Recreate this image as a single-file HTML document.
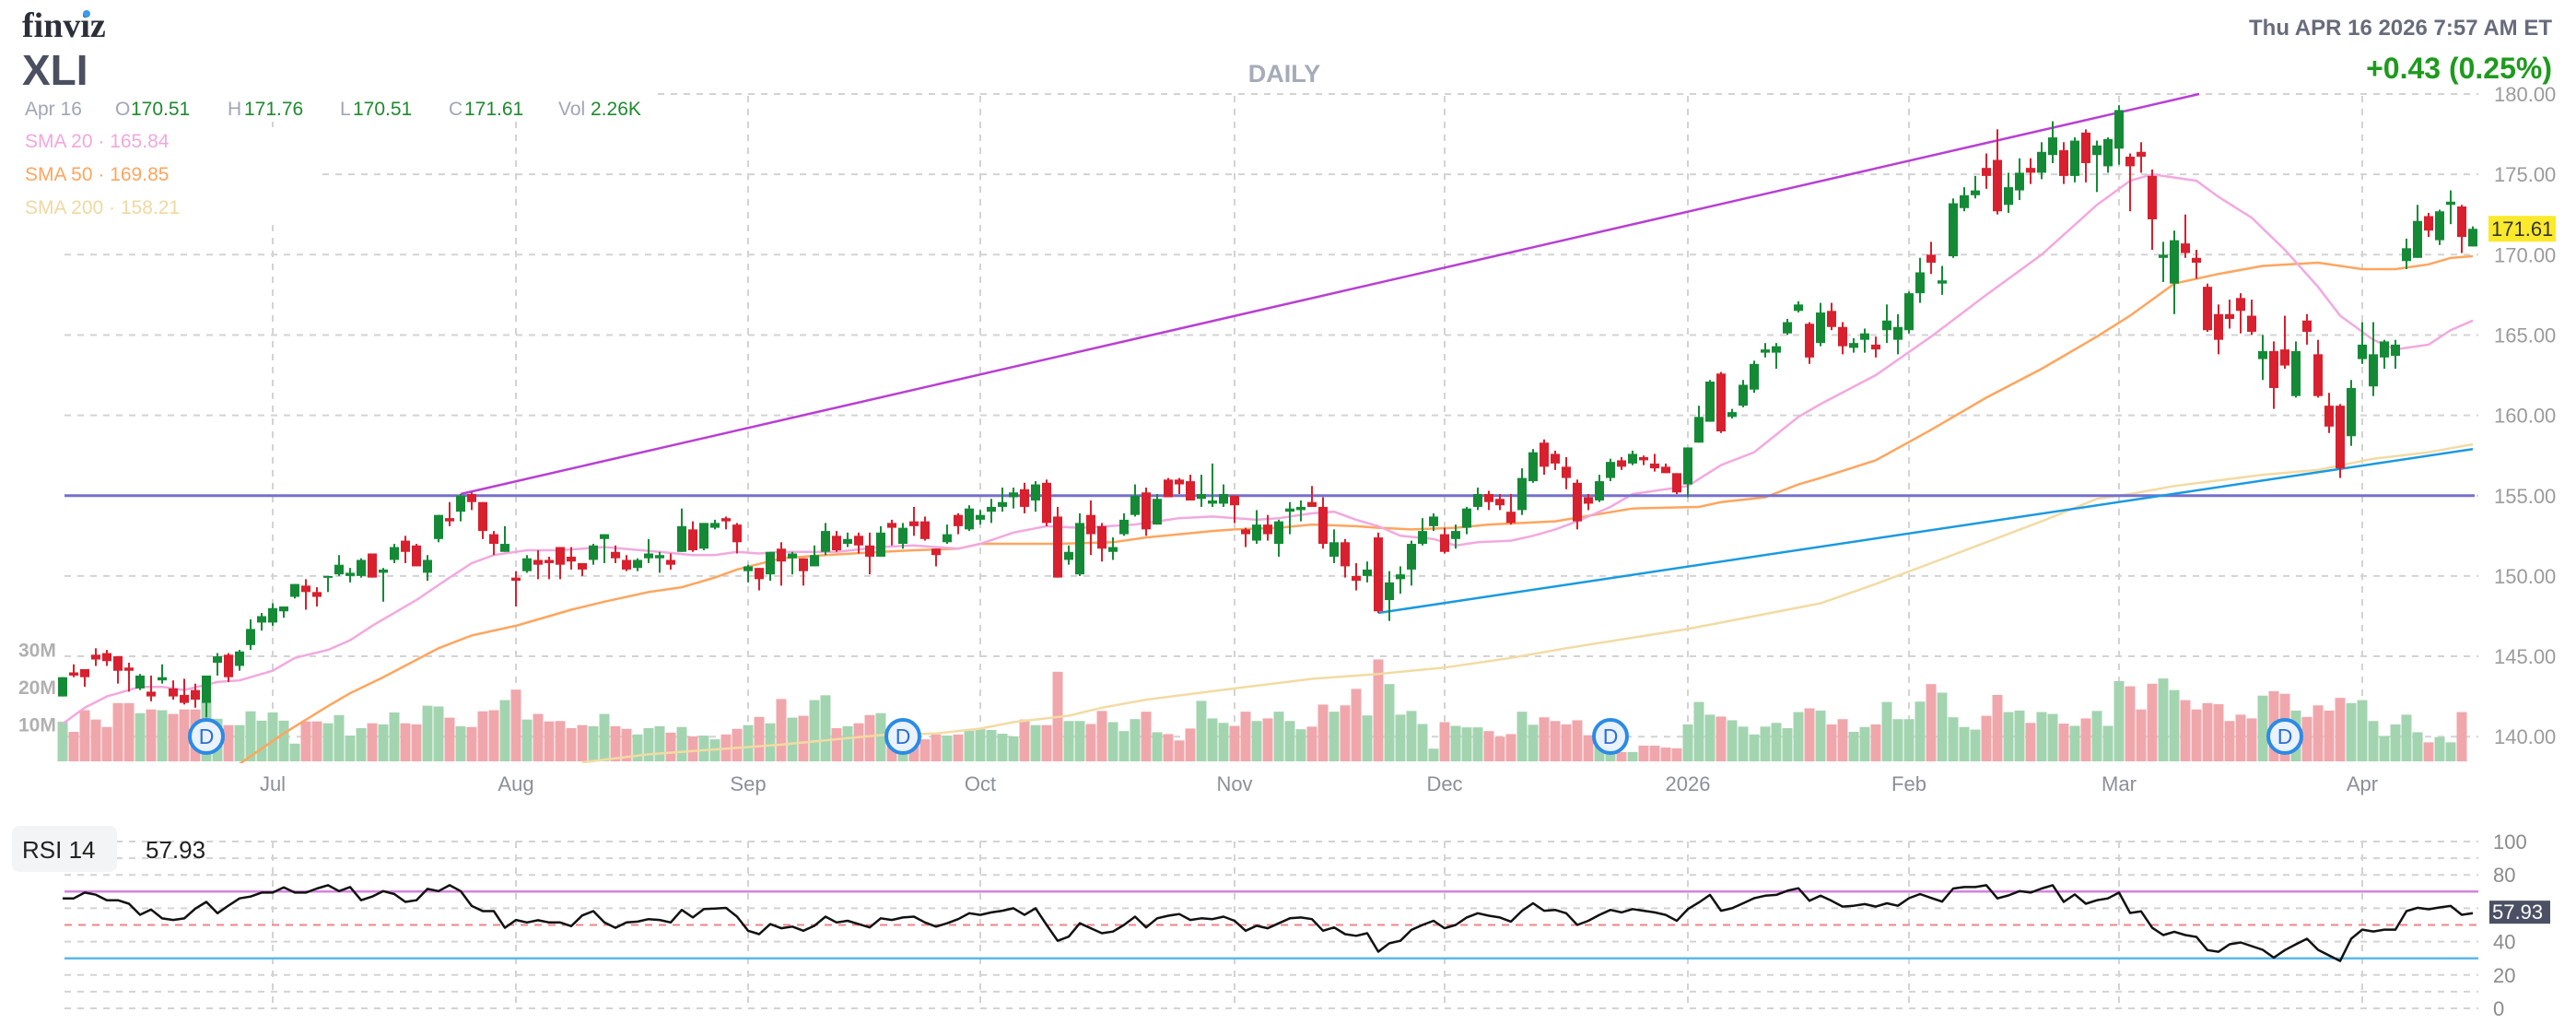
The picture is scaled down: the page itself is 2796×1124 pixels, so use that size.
<!DOCTYPE html>
<html><head><meta charset="utf-8"><title>XLI Daily</title>
<style>
html,body{margin:0;padding:0;background:#fff;}
svg{display:block;font-family:"Liberation Sans",sans-serif;}
</style></head>
<body>
<svg id="chart" xmlns="http://www.w3.org/2000/svg" width="2796" height="1124" viewBox="0 0 2796 1124">
<defs>
<clipPath id="plotClip"><rect x="62" y="95" width="2628" height="733"/></clipPath>
<clipPath id="rsiTop"><rect x="62" y="880" width="2628" height="59.3"/></clipPath>
<clipPath id="rsiBot"><rect x="62" y="1039.7" width="2628" height="60"/></clipPath>
</defs>
<g id="gridLayer"></g>
<g id="volLayer" clip-path="url(#plotClip)"></g>
<g id="smaLayer" clip-path="url(#plotClip)"></g>
<g id="trendLayer" clip-path="url(#plotClip)"></g>
<g id="candleLayer"></g>
<g id="divLayer"></g>
<g id="rsiLayer"></g>
<g id="axisLayer"></g>

<text x="24" y="40" font-family="Liberation Serif,serif" font-weight="bold" font-size="38" fill="#2b2f3a">finviz</text>
<circle cx="94" cy="15" r="4" fill="#3d9be9"/>
<text x="24" y="92" font-weight="bold" font-size="46" fill="#4a5061">XLI</text>
<text x="1394" y="89" text-anchor="middle" font-weight="bold" font-size="27" fill="#a6abb9">DAILY</text>
<text x="2770" y="38" text-anchor="end" font-weight="bold" font-size="24" fill="#676c7c">Thu APR 16 2026 7:57 AM ET</text>
<text x="2770" y="85" text-anchor="end" font-weight="bold" font-size="32" fill="#1e9a1e">+0.43 (0.25%)</text>

<rect x="18" y="100" width="690" height="30" fill="#fff"/>
<g font-size="21">
<text x="27" y="125" fill="#a0a6b6">Apr 16</text>
<text x="125" y="125" fill="#a0a6b6">O</text><text x="142" y="125" fill="#1e8a2e">170.51</text>
<text x="247" y="125" fill="#a0a6b6">H</text><text x="265" y="125" fill="#1e8a2e">171.76</text>
<text x="369" y="125" fill="#a0a6b6">L</text><text x="383" y="125" fill="#1e8a2e">170.51</text>
<text x="487" y="125" fill="#a0a6b6">C</text><text x="504" y="125" fill="#1e8a2e">171.61</text>
<text x="606" y="125" fill="#a0a6b6">Vol</text><text x="641" y="125" fill="#1e8a2e">2.26K</text>
</g>
<rect x="18" y="138" width="330" height="102" fill="#fff"/>
<text x="27" y="160" font-size="21" fill="#f2a7dd">SMA 20 · 165.84</text>
<text x="27" y="196" font-size="21" fill="#ffa55e">SMA 50 · 169.85</text>
<text x="27" y="232" font-size="21" fill="#f0d9a0">SMA 200 · 158.21</text>

<rect x="13" y="896" width="114" height="50" rx="8" fill="#f3f4f6"/>
<text x="24" y="931" font-size="26" fill="#222">RSI 14</text>
<text x="158" y="931" font-size="26" fill="#222">57.93</text>
</svg>
<script>
// ---- data ----
const opens=[142.5,144.0,144.2,145.1,145.2,145.0,144.3,143.0,142.8,143.5,143.0,142.6,142.9,142.1,144.6,145.1,144.4,145.7,147.1,147.1,147.8,148.7,149.4,149.0,149.9,150.1,150.0,150.0,151.4,150.2,151.0,152.2,151.9,150.2,152.3,153.6,154.0,155.1,154.6,152.6,151.5,149.9,150.3,151.0,151.0,151.8,151.2,150.8,151.0,152.3,151.5,151.0,150.5,151.1,151.1,151.0,151.5,152.9,151.7,153.0,153.6,153.2,150.3,150.5,150.1,151.7,151.1,151.1,150.6,151.5,152.5,152.0,152.5,151.9,151.2,153.3,152.0,153.4,153.4,151.7,152.1,153.8,152.9,153.5,154.0,154.3,154.9,155.4,154.7,155.8,153.7,151.0,150.1,153.8,153.1,151.5,152.6,153.8,155.2,153.2,156.0,156.0,155.9,154.8,154.5,154.5,155.0,152.9,152.2,153.2,152.0,154.0,154.1,154.6,154.3,151.2,152.1,150.0,150.0,152.4,148.5,149.8,150.4,152.0,153.1,152.6,152.3,153.0,154.3,155.1,154.8,154.0,154.1,155.9,158.3,157.6,156.8,155.8,154.9,154.7,156.1,157.2,157.0,157.4,157.0,156.8,156.4,155.7,158.3,159.6,162.6,159.9,160.6,161.6,163.9,163.9,165.1,166.5,165.7,164.5,166.5,165.5,164.2,164.7,164.4,165.3,164.7,165.3,167.6,170.0,168.2,169.9,172.9,173.7,175.4,175.9,173.1,174.0,175.4,175.1,176.2,176.5,174.9,177.6,176.2,175.5,176.6,176.1,176.4,174.9,169.8,168.2,170.7,169.8,168.0,166.3,166.3,167.3,166.2,163.5,164.0,164.1,161.2,165.9,163.8,160.6,160.6,158.7,163.5,161.8,163.6,163.7,169.6,169.8,172.4,170.9,173.1,173.0,170.51];
const highs=[143.7,144.5,144.2,145.5,145.4,145.0,144.6,143.9,143.8,144.5,143.5,143.6,143.3,143.8,145.2,145.2,145.4,147.3,147.7,148.3,148.1,149.5,149.8,149.3,150.0,151.3,150.5,151.1,151.4,150.5,152.0,152.5,152.0,151.3,153.8,154.6,155.1,155.2,154.6,152.8,153.1,150.3,151.3,151.6,151.2,151.8,151.8,150.8,152.0,152.6,151.9,151.3,151.1,152.3,151.5,151.4,154.2,153.4,153.3,153.5,153.7,153.3,150.7,150.5,151.5,152.1,151.5,151.1,151.9,153.3,152.8,152.7,152.7,152.7,153.1,153.5,153.3,154.3,153.7,151.7,153.2,153.9,154.4,154.1,154.8,155.5,155.5,155.8,155.9,156.0,154.3,151.9,153.9,154.7,153.3,152.4,153.9,155.7,155.5,155.1,156.1,156.1,156.3,156.3,157.0,155.7,155.0,153.0,154.1,153.8,153.5,154.6,154.7,155.6,154.9,152.9,152.3,150.8,150.9,152.7,150.3,150.6,152.2,153.6,153.9,153.0,153.2,154.3,155.5,155.3,155.1,155.1,156.7,157.9,158.5,157.8,157.4,156.0,155.1,156.3,157.3,157.4,157.8,157.5,157.6,157.0,156.4,158.0,160.6,162.2,162.7,160.4,162.2,163.4,164.5,164.5,166.0,167.1,165.8,167.0,167.0,165.8,164.8,165.4,164.9,166.9,166.3,167.7,169.8,170.8,169.3,173.5,174.2,174.9,176.3,177.8,175.1,176.0,176.0,177.0,178.3,177.0,177.3,177.8,177.1,177.3,179.3,176.3,177.0,175.3,170.8,171.5,172.5,170.3,168.2,166.9,167.2,167.6,167.2,165.0,164.6,166.2,164.6,166.3,164.7,161.4,160.7,162.2,165.8,165.8,164.7,164.7,171.0,173.1,172.6,172.8,174.0,173.1,171.76];
const lows=[142.5,143.7,143.1,144.4,144.4,143.3,142.8,142.9,142.2,143.3,142.3,142.0,141.8,141.2,143.8,143.4,144.1,145.4,146.6,146.9,147.4,148.6,147.9,148.1,149.0,150.0,149.6,149.9,149.9,148.4,150.8,150.8,150.6,149.7,152.1,153.1,153.4,154.1,152.3,151.3,151.5,148.1,150.2,149.8,149.8,149.8,150.4,150.0,150.7,150.8,150.8,150.3,150.3,150.8,150.2,150.4,151.5,151.5,151.6,152.9,152.9,151.4,149.6,149.1,149.7,149.4,150.1,149.4,150.6,151.3,151.5,151.8,151.4,150.1,151.2,151.9,151.7,152.5,152.2,150.6,152.0,152.6,152.8,153.2,153.3,154.0,154.2,153.9,154.0,153.1,149.9,150.7,150.0,151.3,150.9,151.0,152.5,153.7,152.5,153.2,154.9,155.1,154.7,154.3,154.3,154.3,153.3,151.8,152.0,152.2,151.2,152.6,153.4,154.3,151.7,150.8,149.9,149.1,149.6,147.7,147.2,148.9,149.4,151.9,152.8,151.4,151.7,152.6,154.1,154.1,154.1,153.2,153.8,155.8,156.3,156.6,155.4,152.9,154.1,154.6,155.9,156.6,156.9,156.9,156.5,156.4,155.1,154.9,158.3,159.6,158.9,159.8,160.5,161.4,163.6,162.9,165.0,166.4,163.2,164.3,165.3,163.8,163.9,163.9,163.6,164.5,163.8,165.1,167.0,168.8,167.5,169.8,172.7,173.5,174.1,172.5,172.6,173.4,174.4,174.7,175.7,174.4,174.5,174.5,173.9,175.1,175.6,172.7,175.1,170.3,168.3,166.3,169.8,168.5,165.2,163.8,165.4,165.1,165.0,162.2,160.4,162.9,161.1,164.4,161.1,158.9,156.1,158.1,163.2,161.2,162.9,162.9,169.1,169.8,171.1,170.6,171.9,170.1,170.51];
const closes=[143.7,143.8,143.7,144.8,144.7,144.1,144.1,143.8,142.5,143.7,142.5,142.1,142.3,143.8,145.0,143.7,145.3,146.7,147.5,148.0,148.1,149.5,149.0,148.7,150.0,150.7,150.2,151.0,149.9,150.4,151.8,151.5,150.6,151.0,153.8,153.4,155.0,154.6,152.8,152.0,152.0,149.7,151.1,150.7,150.8,150.7,150.9,150.4,151.9,152.6,151.1,150.4,151.0,151.4,151.3,150.7,153.1,151.6,153.3,153.3,153.4,152.1,150.6,149.8,151.5,150.9,151.4,150.3,151.3,152.8,151.6,152.3,151.9,151.2,152.7,153.0,153.0,153.1,152.3,151.3,152.6,153.1,154.2,153.8,154.3,154.6,155.2,154.3,155.7,153.3,149.9,151.5,153.3,152.6,151.7,151.8,153.5,155.0,152.9,154.8,154.9,155.7,154.7,155.1,154.7,155.1,154.4,152.6,153.2,152.6,153.4,154.2,154.3,154.3,152.0,152.1,150.6,149.7,150.4,147.8,149.6,150.1,152.0,152.8,153.7,151.5,152.8,154.2,155.1,154.6,154.4,153.3,156.1,157.7,156.8,157.0,156.1,153.4,154.5,155.9,157.1,156.8,157.6,157.2,156.7,156.4,155.2,158.0,159.9,162.1,159.0,160.2,161.9,163.2,164.1,164.3,165.8,166.9,163.6,166.4,165.5,164.3,164.5,165.1,164.1,165.9,165.5,167.6,168.9,169.5,168.4,173.2,173.7,174.0,174.9,172.7,174.2,175.1,175.1,176.4,177.3,174.9,177.1,175.7,176.8,177.2,179.0,175.5,176.1,172.2,170.0,170.9,170.1,169.5,165.3,164.7,166.0,166.5,165.2,164.0,161.7,163.1,164.0,165.2,161.2,159.3,156.7,161.7,164.4,163.8,164.6,164.4,170.4,172.1,171.5,172.7,173.3,171.1,171.61];
const volumes=[10.6,7.9,13.7,11.2,9.2,15.6,15.6,12.9,13.9,13.7,12.7,13.9,13.9,16,11.4,9.7,9.7,13.4,10.9,13.1,10.9,4.75,10.7,10.7,10.2,12.4,6.9,8.9,10.2,9.9,13.1,10.2,9.9,14.9,14.7,11.7,9.4,9.2,13.4,13.7,16.4,19.2,11.2,12.7,10.7,10.8,8.9,9.7,9.4,12.7,9.4,8.7,7.2,8.9,9.4,7.7,9.2,6.7,6.9,5.9,7.2,8.7,9.7,11.9,10.2,16.7,11.7,12.2,16.4,17.7,8.9,9.4,10.2,12.4,12.9,6.5,6,6.4,5.9,7.2,6.9,7.2,8.2,8.7,8.4,7.4,6.7,11.2,9.7,9.7,24.0,10.8,10.8,10.0,13.5,10.5,8.1,11.3,13.3,7.8,7.3,5.6,8.8,16.2,11.5,10.3,9.5,13.3,10.8,11.5,13.3,10.8,8.6,9.3,15.2,13.3,15.0,19.4,12.3,27.3,20.7,12.5,13.5,10.0,3.4,10.5,9.5,9.1,9.1,8.1,6.6,7.3,13.3,9.8,11.8,10.8,9.9,11.0,7,6,5,2.5,2.5,4.2,4.2,3.7,3.5,9.9,15.9,12.5,12.0,11.0,9.3,7.2,9.3,10.3,8.9,13.2,14.2,13.6,9.9,11.3,7.9,9.2,9.9,15.9,11.3,11.3,16.0,20.7,18.4,11.8,9.2,8.5,12.2,17.8,13.2,13.6,10.3,13.2,12.7,10.1,9.5,11.5,13.5,9.5,21.5,20.1,13.9,20.8,22.2,19.1,16.4,13.9,15.6,15.3,10.8,12.5,11.5,17.6,18.8,18.1,13.6,11.9,15.0,13.6,17.0,15.6,16.4,10.8,6.8,9.9,12.5,7.8,5.1,6.5,5.1,13.2,0.0];
const rsiValues=[65.9,65.9,69.4,68.1,64.8,64.8,62.7,56.1,59.2,53.9,53.0,53.9,59.8,63.8,57.0,61.6,65.9,67.0,69.4,69.4,72.5,69.4,69.4,71.8,73.8,70.3,72.7,64.8,67.0,70.3,68.5,63.8,64.8,71.6,70.3,73.8,70.3,61.4,58.3,58.3,48.3,53.0,51.5,52.8,51.5,51.5,49.3,55.7,58.3,51.5,48.3,51.5,52.0,53.5,53,51.5,59,54.5,59.5,59.8,60.2,55,46.5,44.5,50.5,48,49,46.5,49.5,55,51.5,52.5,50.5,48.5,54,53,54.5,55,51.5,49,51,53.5,57,56,57.5,58.5,60,56,60,50,40.5,43,51,48,45,46,50,55,48.5,54,55.5,56.5,53,54,53.5,55,52.5,46.5,49.5,48,51,54,54.5,53.5,46.5,48.5,44.5,43.5,45,34,39,40.5,47,50,52.5,48,50,54.5,57,55.5,54.5,52,58.5,63,58.5,59,57,50,52.5,56,59,57.5,59.5,58.5,57.5,56,52.5,59.5,63.5,68,58.5,60,63,66,67.5,68,70.5,72,64.5,67.5,64.5,61,61.5,62.5,61,63,61.5,66,68.5,66.2,64.0,71.8,72.7,72.7,73.8,65.9,67.7,70.3,69.4,71.8,73.8,63.8,68.3,62.7,64.8,65.9,69.4,57.2,58.1,48.3,43.9,45.9,43.9,42.8,34.9,33.9,38.4,39.5,37.3,35.1,30.4,34.9,38.4,41.7,35.1,31.7,28.4,41.7,47.2,46.1,47.2,47.2,58.3,60.3,59.4,60.5,61.4,56.1,57.0];
const sma20Idx=[0,2,4,7,9,11,14,16,19,21,24,26,28,32,35,37,39,42,45,49,54,57,59,61,63,65,70,74,77,81,83,86,89,92,97,101,104,108,110,113,115,117,119,121,124,126,128,131,133,135,137,140,142,147,150,153,157,159,164,169,174,179,184,187,189,193,195,198,201,204,206,209,211,214,216,218];
const sma20Values=[140.8,141.8,142.5,143.1,143.1,142.9,143.4,143.5,144.1,144.9,145.4,146.0,146.9,148.5,149.9,150.8,151.3,151.6,151.6,151.8,151.5,151.3,151.3,151.5,151.4,151.5,151.5,151.8,151.9,151.7,152.0,152.7,153.1,153.0,153.2,153.6,153.7,153.5,153.6,153.9,154.0,153.5,153.1,152.5,152.3,151.9,152.1,152.2,152.5,152.9,153.4,154.3,155.1,155.6,156.9,157.7,159.9,160.7,162.5,164.9,167.5,170.0,173.1,174.6,175.0,174.6,173.6,172.3,170.3,168.0,166.2,164.7,164.1,164.4,165.3,165.9];
const sma50Idx=[16,20,24,26,29,34,37,41,43,46,49,53,56,59,61,65,69,74,77,81,83,88,90,95,98,101,104,106,110,113,117,119,122,126,129,132,135,142,148,150,154,157,159,164,169,174,179,184,187,189,191,195,199,204,208,211,214,216,218];
const sma50Values=[138.3,140.2,141.9,142.7,143.7,145.5,146.3,146.9,147.3,147.9,148.4,149.0,149.3,149.9,150.4,151.1,151.3,151.5,151.6,151.7,152.0,152.0,152.0,152.1,152.4,152.6,152.8,152.9,153.0,153.2,153.1,153.0,152.9,153.0,153.2,153.3,153.4,154.2,154.3,154.6,154.9,155.7,156.1,157.2,159.1,161.1,162.9,164.9,166.2,167.2,168.2,168.8,169.3,169.5,169.1,169.1,169.4,169.8,169.9];
const sma200Idx=[47,53,59,65,71,74,79,83,86,91,94,98,106,113,119,125,131,136,147,153,159,164,169,174,179,184,187,191,199,204,209,214,218];
const sma200Values=[138.4,138.9,139.2,139.5,139.9,140.1,140.2,140.5,140.9,141.3,141.8,142.3,143.0,143.6,143.9,144.3,144.9,145.5,146.7,147.5,148.3,149.5,150.8,152.1,153.4,154.8,155.1,155.6,156.3,156.6,157.3,157.7,158.2];
const monthLabels=["Jul","Aug","Sep","Oct","Nov","Dec","2026","Feb","Mar","Apr"];
const monthIdx=[19,41,62,83,106,125,147,167,186,208];
const priceTicks=[180,175,170,165,160,155,150,145,140];
const volTicks=[30,20,10];
const rsiTicks=[100,80,40,20,0];
const dividendIdx=[13,76,140,201];
const supportLevel=155.0;
const upperTrendIdx=[36,193.25];
const upperTrendPrice=[155.1,180];
const lowerTrendIdx=[119,218];
const lowerTrendPrice=[147.7,157.9];
const lastPrice=171.61;
const lastRsi=57.93;

// ---- axes ----
const X0=68, DX=12, PLOT_L=62, PLOT_R=2690;
function xOf(i){return X0+DX*i;}
function yP(p){return 102+(180-p)*17.43;}
function yV(v){return 826-v*4.05;}
function yR(r){return 913+(100-r)*1.81;}
const NS="http://www.w3.org/2000/svg";
function mk(tag,attrs,parent){const el=document.createElementNS(NS,tag);for(const k in attrs)el.setAttribute(k,attrs[k]);parent.appendChild(el);return el;}
const gridL=document.getElementById('gridLayer'),volL=document.getElementById('volLayer'),smaL=document.getElementById('smaLayer'),trL=document.getElementById('trendLayer'),cL=document.getElementById('candleLayer'),dL=document.getElementById('divLayer'),rL=document.getElementById('rsiLayer'),aL=document.getElementById('axisLayer');
const GRID='#d3d3d3';

// price grid + labels
priceTicks.forEach(p=>{
  const ln=mk('line',{x1:PLOT_L+8,x2:PLOT_R,y1:yP(p),y2:yP(p),stroke:GRID,'stroke-width':2,'stroke-dasharray':'7,7'},gridL);
  
  
  const t=mk('text',{x:2707,y:yP(p)+8,'font-size':22,fill:'#9b9b9b'},aL);
  t.textContent=p.toFixed(2);
  
  
});
// month grid + labels
monthIdx.forEach((mi,k)=>{
  const x=xOf(mi);
  const ln=mk('line',{x1:x,x2:x,y1:104,y2:828,stroke:GRID,'stroke-width':2,'stroke-dasharray':'7,7'},gridL);
  
  
  const ln2=mk('line',{x1:x,x2:x,y1:913,y2:1094,stroke:GRID,'stroke-width':2,'stroke-dasharray':'7,7'},gridL);
  
  
  const t=mk('text',{x:x,y:858,'font-size':22,fill:'#8b8f99','text-anchor':'middle'},aL);
  t.textContent=monthLabels[k];
  
  
});
// volume labels
volTicks.forEach(v=>{
  const t=mk('text',{x:20,y:yV(v)+8,'font-size':21,'font-weight':'bold',fill:'#b0b0b0'},aL);
  t.textContent=v+'M';
  
  
});
// volume bars
volumes.forEach((v,i)=>{
  const up=closes[i]>=opens[i];
  const h=Math.max(0,826-yV(v));
  const r=mk('rect',{x:xOf(i)-5.5,y:yV(v),width:11,height:h,fill:up?'#a3d4b0':'#f0a7ac'},volL);
  
  
});
// SMAs
function smaPath(idx,vals){return idx.map((ix,k)=>(k?'L':'M')+xOf(ix).toFixed(1)+' '+yP(vals[k]).toFixed(1)).join(' ');}
const s200=mk('path',{d:smaPath(sma200Idx,sma200Values),fill:'none',stroke:'#f2dba3','stroke-width':2.5},smaL);


const s50=mk('path',{d:smaPath(sma50Idx,sma50Values),fill:'none',stroke:'#ffa55e','stroke-width':2.5},smaL);


const s20=mk('path',{d:smaPath(sma20Idx,sma20Values),fill:'none',stroke:'#f2a9df','stroke-width':2.5},smaL);


// trendlines
const sup=mk('line',{x1:PLOT_L+8,x2:PLOT_R-4,y1:yP(supportLevel),y2:yP(supportLevel),stroke:'#7670cf','stroke-width':3},trL);


const up=mk('line',{x1:xOf(upperTrendIdx[0]),y1:yP(upperTrendPrice[0]),x2:xOf(upperTrendIdx[1]),y2:yP(upperTrendPrice[1]),stroke:'#b93fd4','stroke-width':2.5},trL);


const lo=mk('line',{x1:xOf(lowerTrendIdx[0]),y1:yP(lowerTrendPrice[0]),x2:xOf(lowerTrendIdx[1]),y2:yP(lowerTrendPrice[1]),stroke:'#1a9ae0','stroke-width':2.5},trL);


// candles
closes.forEach((c,i)=>{
  const o=opens[i],upc=c>=o,col=upc?'#148a36':'#d8202e',x=xOf(i);
  const w=mk('line',{x1:x,x2:x,y1:yP(highs[i]),y2:yP(lows[i]),stroke:col,'stroke-width':2},cL);
  
  
  const top=yP(Math.max(o,c)),bot=yP(Math.min(o,c));
  const b=mk('rect',{x:x-5,y:top,width:10,height:Math.max(2,bot-top),fill:col},cL);
  
  
});
// dividends
dividendIdx.forEach(di=>{
  const x=xOf(di),y=799;
  const c=mk('circle',{cx:x,cy:y,r:18,fill:'#eaf2fd',stroke:'#2b8be6','stroke-width':4},dL);
  
  
  const t=mk('text',{x:x,y:y+8,'text-anchor':'middle','font-size':23,fill:'#2b6fd6'},dL);
  t.textContent='D';
  
  
});
// last price badge
const lb=mk('rect',{x:2701,y:yP(lastPrice)-14,width:73,height:28,fill:'#fbe92b'},aL);


const lt=mk('text',{x:2704,y:yP(lastPrice)+8,'font-size':22,fill:'#333'},aL);
lt.textContent=lastPrice.toFixed(2);



// RSI panel
for(let r=0;r<=100;r+=10){
  if(r===70||r===30||r===50)continue;
  const g=mk('line',{x1:PLOT_L+8,x2:PLOT_R,y1:yR(r),y2:yR(r),stroke:GRID,'stroke-width':2,'stroke-dasharray':'7,7'},rL);
  
  
}
const rsiPts=rsiValues.map((v,i)=>xOf(i).toFixed(1)+','+yR(v).toFixed(1));
const xa=xOf(0),xb=xOf(rsiValues.length-1);
const fillTop=mk('polygon',{points:xa+','+yR(70)+' '+rsiPts.join(' ')+' '+xb+','+yR(70),fill:'#dba2e2','clip-path':'url(#rsiTop)'},rL);


const fillBot=mk('polygon',{points:xa+','+yR(30)+' '+rsiPts.join(' ')+' '+xb+','+yR(30),fill:'#a8d6f2','clip-path':'url(#rsiBot)'},rL);


const l70=mk('line',{x1:PLOT_L+8,x2:PLOT_R,y1:yR(70),y2:yR(70),stroke:'#d483de','stroke-width':2.5},rL);


const l50=mk('line',{x1:PLOT_L+8,x2:PLOT_R,y1:yR(50),y2:yR(50),stroke:'#f08585','stroke-width':2,'stroke-dasharray':'8,7'},rL);


const l30=mk('line',{x1:PLOT_L+8,x2:PLOT_R,y1:yR(30),y2:yR(30),stroke:'#5bb8e8','stroke-width':2.5},rL);


const rl=mk('polyline',{points:rsiPts.join(' '),fill:'none',stroke:'#111','stroke-width':2.5,'stroke-linejoin':'round'},rL);


rsiTicks.forEach(r=>{
  const t=mk('text',{x:2706,y:yR(r)+8,'font-size':22,fill:'#8b8b8b'},aL);
  t.textContent=String(r);
  
  
});
const rb=mk('rect',{x:2702,y:yR(lastRsi)-12,width:66,height:25,fill:'#4b5064'},aL);


const rt=mk('text',{x:2705,y:yR(lastRsi)+8,'font-size':22,fill:'#fff'},aL);
rt.textContent=lastRsi.toFixed(2);


</script>
</body></html>
